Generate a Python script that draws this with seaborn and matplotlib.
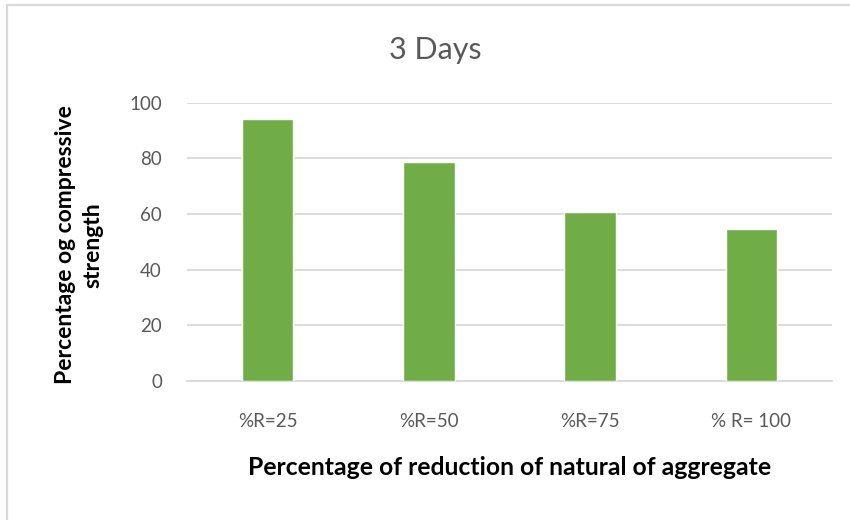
import matplotlib
matplotlib.use("Agg")
import matplotlib.pyplot as plt
from matplotlib.patches import Rectangle
import seaborn as sns
import pandas as pd

categories = ["%R=25", "%R=50", "%R=75", "% R= 100"]
strength = [94.3, 78.6, 60.7, 54.6]
y_ticks = [0, 20, 40, 60, 80, 100]

sns.set_theme(style="white")
plt.rcParams["font.family"] = ["Lato", "DejaVu Sans"]

df = pd.DataFrame({"category": categories, "value": strength})

fig = plt.figure(figsize=(8.5, 5.2), dpi=100)
ax = fig.add_axes([187 / 850, 1 - 381 / 520, (832 - 187) / 850, (381 - 102.7) / 520])

sns.barplot(data=df, x="category", y="value", color="#70AD47", saturation=1,
            width=0.32, ax=ax, zorder=3)

ax.set_ylim(0, 100)
ax.set_yticks(y_ticks)
ax.set_xlim(-0.5, len(categories) - 0.5)
ax.yaxis.grid(True, color="#D9D9D9", linewidth=1.3, zorder=0)
ax.xaxis.grid(False)
for side in ["top", "right", "left"]:
    ax.spines[side].set_visible(False)
ax.spines["bottom"].set_color("#D9D9D9")
ax.spines["bottom"].set_linewidth(1.3)

ax.tick_params(axis="y", length=0, pad=18, labelsize=13.5, labelcolor="#595959")
ax.tick_params(axis="x", length=0, pad=23, labelsize=13.5, labelcolor="#595959")

ax.set_xlabel("Percentage of reduction of natural of aggregate", fontsize=17.8,
              fontweight="bold", color="black", labelpad=19)
ax.set_ylabel("")
fig.text(79 / 850, 1 - 245 / 520, "Percentage og compressive\nstrength",
         rotation=90, ha="center", va="center", fontsize=16.5,
         fontweight="bold", color="black", linespacing=1.4)

fig.text(435 / 850, 1 - 50 / 520, "3 Days", ha="center", va="center",
         fontsize=22, color="#595959")

# chart-area border
fig.patches.append(Rectangle((7 / 850, -0.05), 1.0, 1 - 5 / 520 + 0.05,
                             transform=fig.transFigure, fill=False,
                             edgecolor="#D9D9D9", linewidth=1.6))

fig.savefig("out.png", dpi=100)
